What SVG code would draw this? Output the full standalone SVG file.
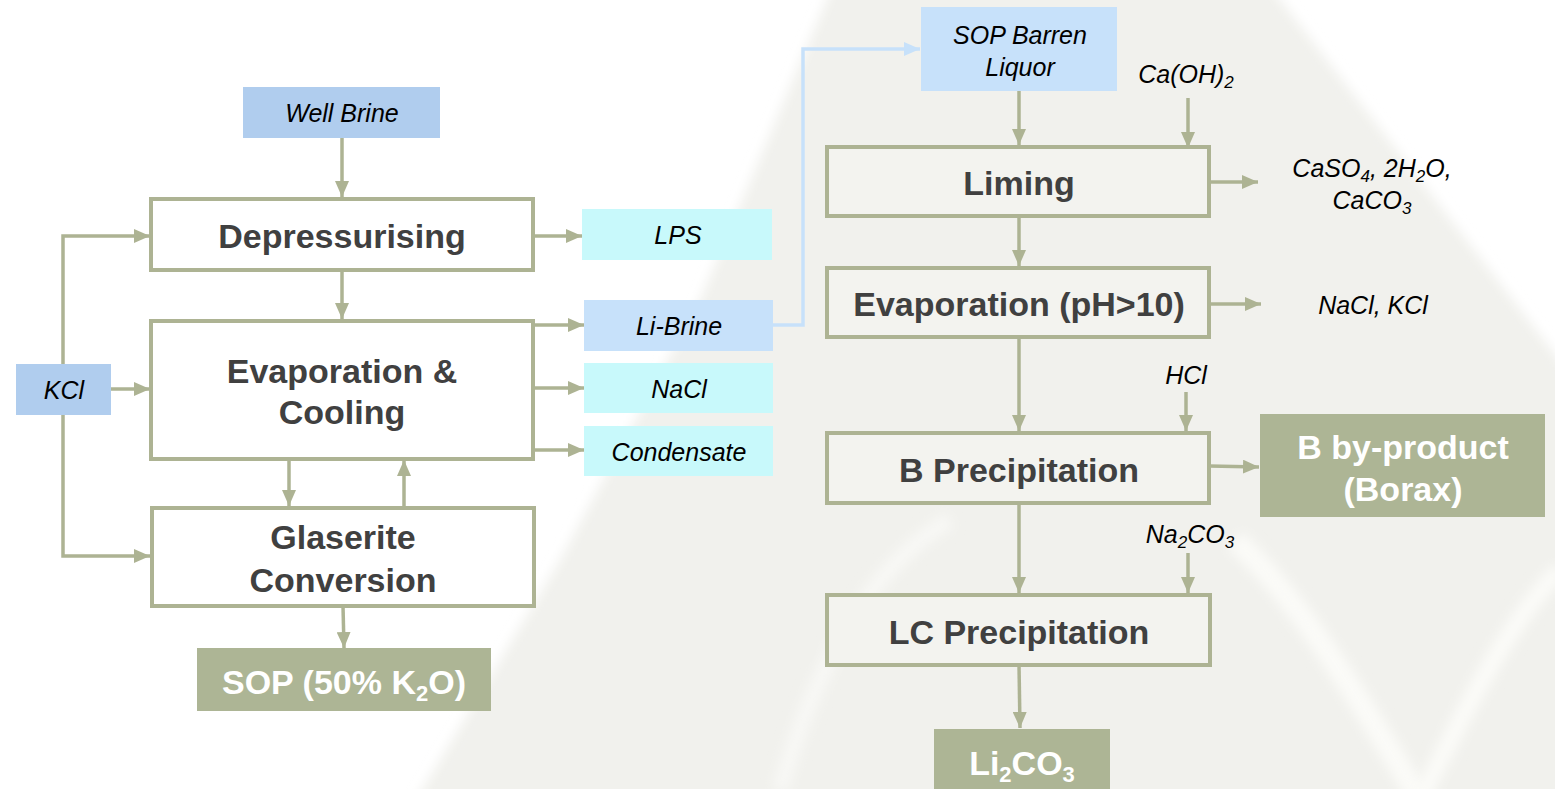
<svg xmlns="http://www.w3.org/2000/svg" width="1555" height="789" viewBox="0 0 1555 789">
<style>
.bg{fill:#f1f1ed}
.proc{fill:#ffffff;stroke:#adb393;stroke-width:4}
.procg{fill:#f3f3ef;stroke:#adb393;stroke-width:4}
.prod{fill:#adb595}
.blue{fill:#b0cdee}
.lblue{fill:#c7e1fa}
.cyan{fill:#c8f9fb}
.bt{font-family:"Liberation Sans",Arial,sans-serif;font-weight:bold;font-size:34px;fill:#404040;text-anchor:middle}
.wt{font-family:"Liberation Sans",Arial,sans-serif;font-weight:bold;font-size:34px;fill:#ffffff;text-anchor:middle}
.it{font-family:"Liberation Sans",Arial,sans-serif;font-style:italic;font-size:25px;fill:#000000;text-anchor:middle}
.con{fill:none;stroke:#adb393;stroke-width:3.5}
.conb{fill:none;stroke:#c7e1fa;stroke-width:3.5}
</style>
<defs>
<marker id="ah" viewBox="0 0 16 14" refX="16" refY="7" markerWidth="16" markerHeight="14" markerUnits="userSpaceOnUse" orient="auto"><path d="M0,0 L16,7 L0,14 z" fill="#adb393"/></marker>
<marker id="ahb" viewBox="0 0 16 14" refX="16" refY="7" markerWidth="16" markerHeight="14" markerUnits="userSpaceOnUse" orient="auto"><path d="M0,0 L16,7 L0,14 z" fill="#c7e1fa"/></marker>
<filter id="blur" x="-20%" y="-20%" width="140%" height="140%"><feGaussianBlur stdDeviation="6"/></filter>
</defs>
<rect width="1555" height="789" fill="#ffffff"/>
<g id="watermark">
<path class="bg" filter="url(#blur)" d="M835,-20 L1265,-20 L1575,380 L1575,810 L410,810 L560,560 L700,300 Z"/>
<path d="M1235,540 C1300,600 1360,700 1420,800" fill="none" stroke="#fbfbf8" stroke-width="22" filter="url(#blur)"/>
<path d="M1420,800 C1470,700 1510,620 1560,570" fill="none" stroke="#fbfbf8" stroke-width="18" filter="url(#blur)"/>
<path d="M780,790 C820,650 880,560 950,520" fill="none" stroke="#f8f8f5" stroke-width="16" filter="url(#blur)"/>
</g>
<g id="connectors">
<line class="con" x1="342" y1="138" x2="342" y2="197" marker-end="url(#ah)"/>
<line class="con" x1="342" y1="270" x2="342" y2="319" marker-end="url(#ah)"/>
<line class="con" x1="533" y1="236" x2="582" y2="236" marker-end="url(#ah)"/>
<line class="con" x1="533" y1="325" x2="584" y2="325" marker-end="url(#ah)"/>
<line class="con" x1="533" y1="388" x2="584" y2="388" marker-end="url(#ah)"/>
<line class="con" x1="533" y1="450" x2="584" y2="450" marker-end="url(#ah)"/>
<polyline class="con" points="63,364 63,236 150,236" marker-end="url(#ah)"/>
<line class="con" x1="111" y1="389" x2="150" y2="389" marker-end="url(#ah)"/>
<polyline class="con" points="63,415 63,556 150,556" marker-end="url(#ah)"/>
<line class="con" x1="289" y1="459" x2="289" y2="506" marker-end="url(#ah)"/>
<line class="con" x1="404" y1="507" x2="404" y2="460" marker-end="url(#ah)"/>
<line class="con" x1="343" y1="606" x2="344" y2="648" marker-end="url(#ah)"/>
<polyline class="conb" points="773,325 803,325 803,49 920,49" marker-end="url(#ahb)"/>
<line class="con" x1="1019" y1="91" x2="1019" y2="145" marker-end="url(#ah)"/>
<line class="con" x1="1188" y1="98" x2="1188" y2="148" marker-end="url(#ah)"/>
<line class="con" x1="1209" y1="182" x2="1258" y2="182" marker-end="url(#ah)"/>
<line class="con" x1="1019" y1="216" x2="1019" y2="266" marker-end="url(#ah)"/>
<line class="con" x1="1209" y1="304" x2="1261" y2="304" marker-end="url(#ah)"/>
<line class="con" x1="1019" y1="337" x2="1019" y2="431" marker-end="url(#ah)"/>
<line class="con" x1="1186" y1="392" x2="1186" y2="431" marker-end="url(#ah)"/>
<line class="con" x1="1209" y1="466" x2="1259" y2="467" marker-end="url(#ah)"/>
<line class="con" x1="1019" y1="503" x2="1019" y2="593" marker-end="url(#ah)"/>
<line class="con" x1="1188" y1="553" x2="1188" y2="593" marker-end="url(#ah)"/>
<line class="con" x1="1019" y1="665" x2="1020" y2="728" marker-end="url(#ah)"/>
</g>
<g id="well-brine"><rect class="blue" x="243" y="87" width="197" height="51"/><text class="it" x="342" y="122">Well Brine</text></g>
<g id="depressurising"><rect class="proc" x="151" y="199" width="382" height="71"/><text class="bt" x="342" y="248">Depressurising</text></g>
<g id="lps"><rect class="cyan" x="582" y="209" width="190" height="51"/><text class="it" x="678" y="244">LPS</text></g>
<g id="evap-cooling"><rect class="proc" x="151" y="321" width="382" height="138"/><text class="bt" x="342" y="383">Evaporation &amp;</text><text class="bt" x="342" y="424">Cooling</text></g>
<g id="li-brine"><rect class="lblue" x="584" y="300" width="189" height="51"/><text class="it" x="679" y="335">Li-Brine</text></g>
<g id="nacl"><rect class="cyan" x="584" y="363" width="189" height="50"/><text class="it" x="679" y="398">NaCl</text></g>
<g id="condensate"><rect class="cyan" x="584" y="426" width="189" height="50"/><text class="it" x="679" y="461">Condensate</text></g>
<g id="kcl"><rect class="blue" x="16" y="364" width="95" height="51"/><text class="it" x="64" y="399">KCl</text></g>
<g id="glaserite"><rect class="proc" x="152" y="508" width="382" height="98"/><text class="bt" x="343" y="549">Glaserite</text><text class="bt" x="343" y="592">Conversion</text></g>
<g id="sop"><rect class="prod" x="197" y="648" width="294" height="63"/><text class="wt" x="344" y="694">SOP (50% K<tspan font-size="22" dy="7">2</tspan><tspan dy="-7">O)</tspan></text></g>
<g id="sop-barren"><rect class="lblue" x="921" y="7" width="196" height="84"/><text class="it" x="1020" y="44">SOP Barren</text><text class="it" x="1020" y="76">Liquor</text></g>
<g id="caoh2"><text class="it" x="1186" y="83">Ca(OH)<tspan font-size="17" dy="5">2</tspan></text></g>
<g id="liming"><rect class="procg" x="827" y="147" width="382" height="69"/><text class="bt" x="1019" y="195">Liming</text></g>
<g id="caso4"><text class="it" x="1372" y="177">CaSO<tspan font-size="17" dy="5">4</tspan><tspan dy="-5">, 2H</tspan><tspan font-size="17" dy="5">2</tspan><tspan dy="-5">O,</tspan></text><text class="it" x="1372" y="209">CaCO<tspan font-size="17" dy="5">3</tspan></text></g>
<g id="evap-ph"><rect class="procg" x="827" y="268" width="382" height="69"/><text class="bt" x="1019" y="316">Evaporation (pH&gt;10)</text></g>
<g id="nacl-kcl"><text class="it" x="1373" y="314">NaCl, KCl</text></g>
<g id="hcl"><text class="it" x="1186" y="384">HCl</text></g>
<g id="b-precip"><rect class="procg" x="827" y="433" width="382" height="70"/><text class="bt" x="1019" y="482">B Precipitation</text></g>
<g id="b-byproduct"><rect class="prod" x="1260" y="414" width="285" height="103"/><text class="wt" x="1403" y="459">B by-product</text><text class="wt" x="1403" y="501">(Borax)</text></g>
<g id="na2co3"><text class="it" x="1190" y="543">Na<tspan font-size="17" dy="5">2</tspan><tspan dy="-5">CO</tspan><tspan font-size="17" dy="5">3</tspan></text></g>
<g id="lc-precip"><rect class="procg" x="827" y="595" width="383" height="70"/><text class="bt" x="1019" y="644">LC Precipitation</text></g>
<g id="li2co3"><rect class="prod" x="934" y="729" width="176" height="62"/><text class="wt" x="1022" y="775">Li<tspan font-size="22" dy="7">2</tspan><tspan dy="-7">CO</tspan><tspan font-size="22" dy="7">3</tspan></text></g>
</svg>
